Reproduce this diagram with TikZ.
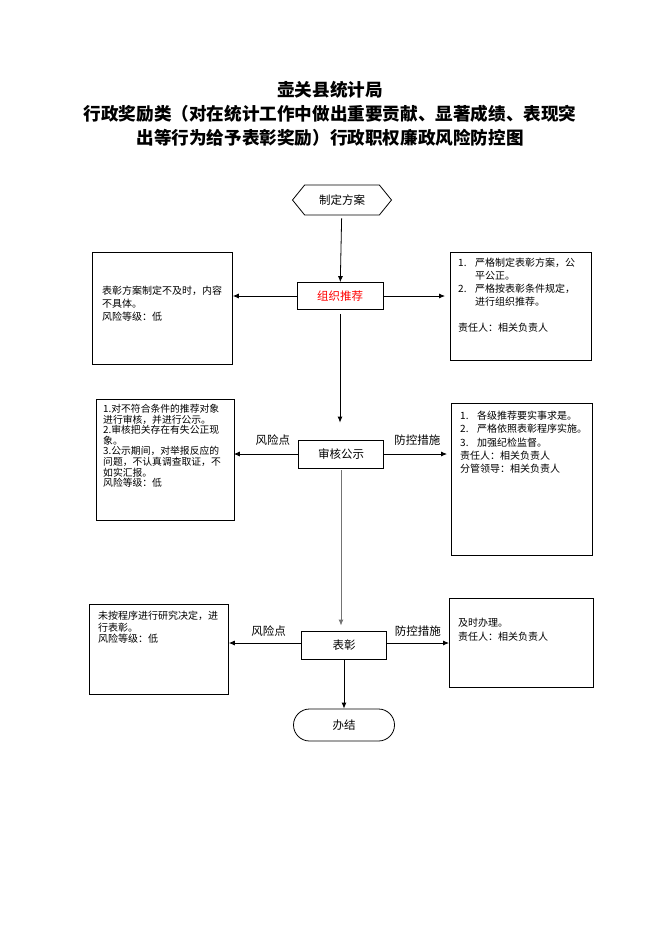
\documentclass[tikz,border=0pt]{standalone}
\usepackage{fontspec}
\newfontfamily\cjk{Noto Sans CJK SC}
\usetikzlibrary{arrows.meta,shapes.symbols,shapes.misc}

\tikzset{
	arr/.style={-{Latex[length=6pt,width=5pt]}, line width=0.8pt},
	flowbox/.style={draw, line width=0.8pt, inner sep=0pt, font=\cjk\fontsize{11.5}{14}\selectfont},
	memobox/.style={draw, line width=0.8pt, inner sep=0pt, anchor=north west},
	memo/.style={anchor=north west, inner sep=0pt, align=left, font=\cjk\fontsize{10}{#1}\selectfont},
	tag/.style={font=\cjk\fontsize{11.5}{14}\selectfont}
}
\newcommand{\itemno}[1]{\makebox[17pt][l]{#1}}

\begin{document}
\begin{tikzpicture}[x=1pt, y=-1pt]
				
				\useasboundingbox (0,0) rectangle (662,936);
				
				\node[align=center, font=\cjk\bfseries\fontsize{17.6}{24}\selectfont] (Title) at (330,114) {壶关县统计局\\行政奖励类（对在统计工作中做出重要贡献、显著成绩、表现突\\出等行为给予表彰奖励）行政职权廉政风险防控图};
				
				\node[flowbox, signal, signal to=west and east, signal pointer angle=102, minimum width=99pt, minimum height=30pt] (Plan) at (342,200) {制定方案};
				\node[flowbox, text=red, minimum width=86pt, minimum height=27pt] (Recom) at (340,296) {组织推荐};
				\node[flowbox, minimum width=85pt, minimum height=28pt] (Audit) at (341,454) {审核公示};
				\node[flowbox, minimum width=85pt, minimum height=28pt] (Award) at (344,645) {表彰};
				\node[flowbox, rounded rectangle, minimum width=101pt, minimum height=32pt] (End) at (344,725) {办结};
				
				\node[memobox, minimum width=140pt, minimum height=112pt] (RecomRisk) at (92,252) {};
				\node[memobox, minimum width=141pt, minimum height=108pt] (RecomCtrl) at (450,252) {};
				\node[memobox, minimum width=138pt, minimum height=121pt] (AuditRisk) at (96,399) {};
				\node[memobox, minimum width=141pt, minimum height=152pt] (AuditCtrl) at (451,403) {};
				\node[memobox, minimum width=139pt, minimum height=90pt] (AwardRisk) at (89,604) {};
				\node[memobox, minimum width=144pt, minimum height=89pt] (AwardCtrl) at (449,598) {};
				
				\node[memo=13] (RecomRiskText) at (102,286) {表彰方案制定不及时，内容\\不具体。\\风险等级：低};
				\node[memo=12.8] (RecomCtrlText) at (458,258) {\itemno{1.}严格制定表彰方案，公\\\itemno{}平公正。\\\itemno{2.}严格按表彰条件规定，\\\itemno{}进行组织推荐。\\[14pt]责任人：相关负责人};
				\node[memo=10.6, font=\cjk\fontsize{9.8}{10.6}\selectfont] (AuditRiskText) at (103,404) {1.对不符合条件的推荐对象\\进行审核，并进行公示。\\2.审核把关存在有失公正现\\象。\\3.公示期间，对举报反应的\\问题，不认真调查取证，不\\如实汇报。\\风险等级：低};
				\node[memo=13.3] (AuditCtrlText) at (460,411) {\itemno{1.}各级推荐要实事求是。\\\itemno{2.}严格依照表彰程序实施。\\\itemno{3.}加强纪检监督。\\责任人：相关负责人\\分管领导：相关负责人};
				\node[memo=11.5] (AwardRiskText) at (98,611) {未按程序进行研究决定，进\\行表彰。\\风险等级：低};
				\node[memo=14] (AwardCtrlText) at (458,618) {及时办理。\\责任人：相关负责人};
				
				\draw[arr, shorten <=3pt] (Plan) -- (Recom);
				\draw[arr] (Recom.west) -- (Recom.west -| RecomRisk.east);
				\draw[arr, shorten >=5pt] (Recom.east) -- (Recom.east -| RecomCtrl.west);
				\draw[arr, shorten <=4pt, shorten >=17pt] (Recom.south) -- (Recom.south |- Audit.north);
				
				\draw[arr, shorten >=-1pt] (Audit.west) -- (Audit.west -| AuditRisk.east) node[tag, pos=0.4, above=5pt] (AuditRiskTag) {风险点};
				\draw[arr, shorten >=4pt] (Audit.east) -- (Audit.east -| AuditCtrl.west) node[tag, midway, above=5pt] (AuditCtrlTag) {防控措施};
				\draw[arr, draw=black!55, line width=1pt, shorten <=2pt, shorten >=5pt] (Audit.south) -- (Audit.south |- Award.north);
				
				\draw[arr] ([yshift=2pt]Award.west) -- ([yshift=2pt]Award.west -| AwardRisk.east) node[tag, pos=0.45, above=3pt] (AwardRiskTag) {风险点};
				\draw[arr] ([yshift=2pt]Award.east) -- ([yshift=2pt]Award.east -| AwardCtrl.west) node[tag, midway, above=3pt] (AwardCtrlTag) {防控措施};
				\draw[arr] (Award) -- (End);
				
			\end{tikzpicture}
\end{document}
